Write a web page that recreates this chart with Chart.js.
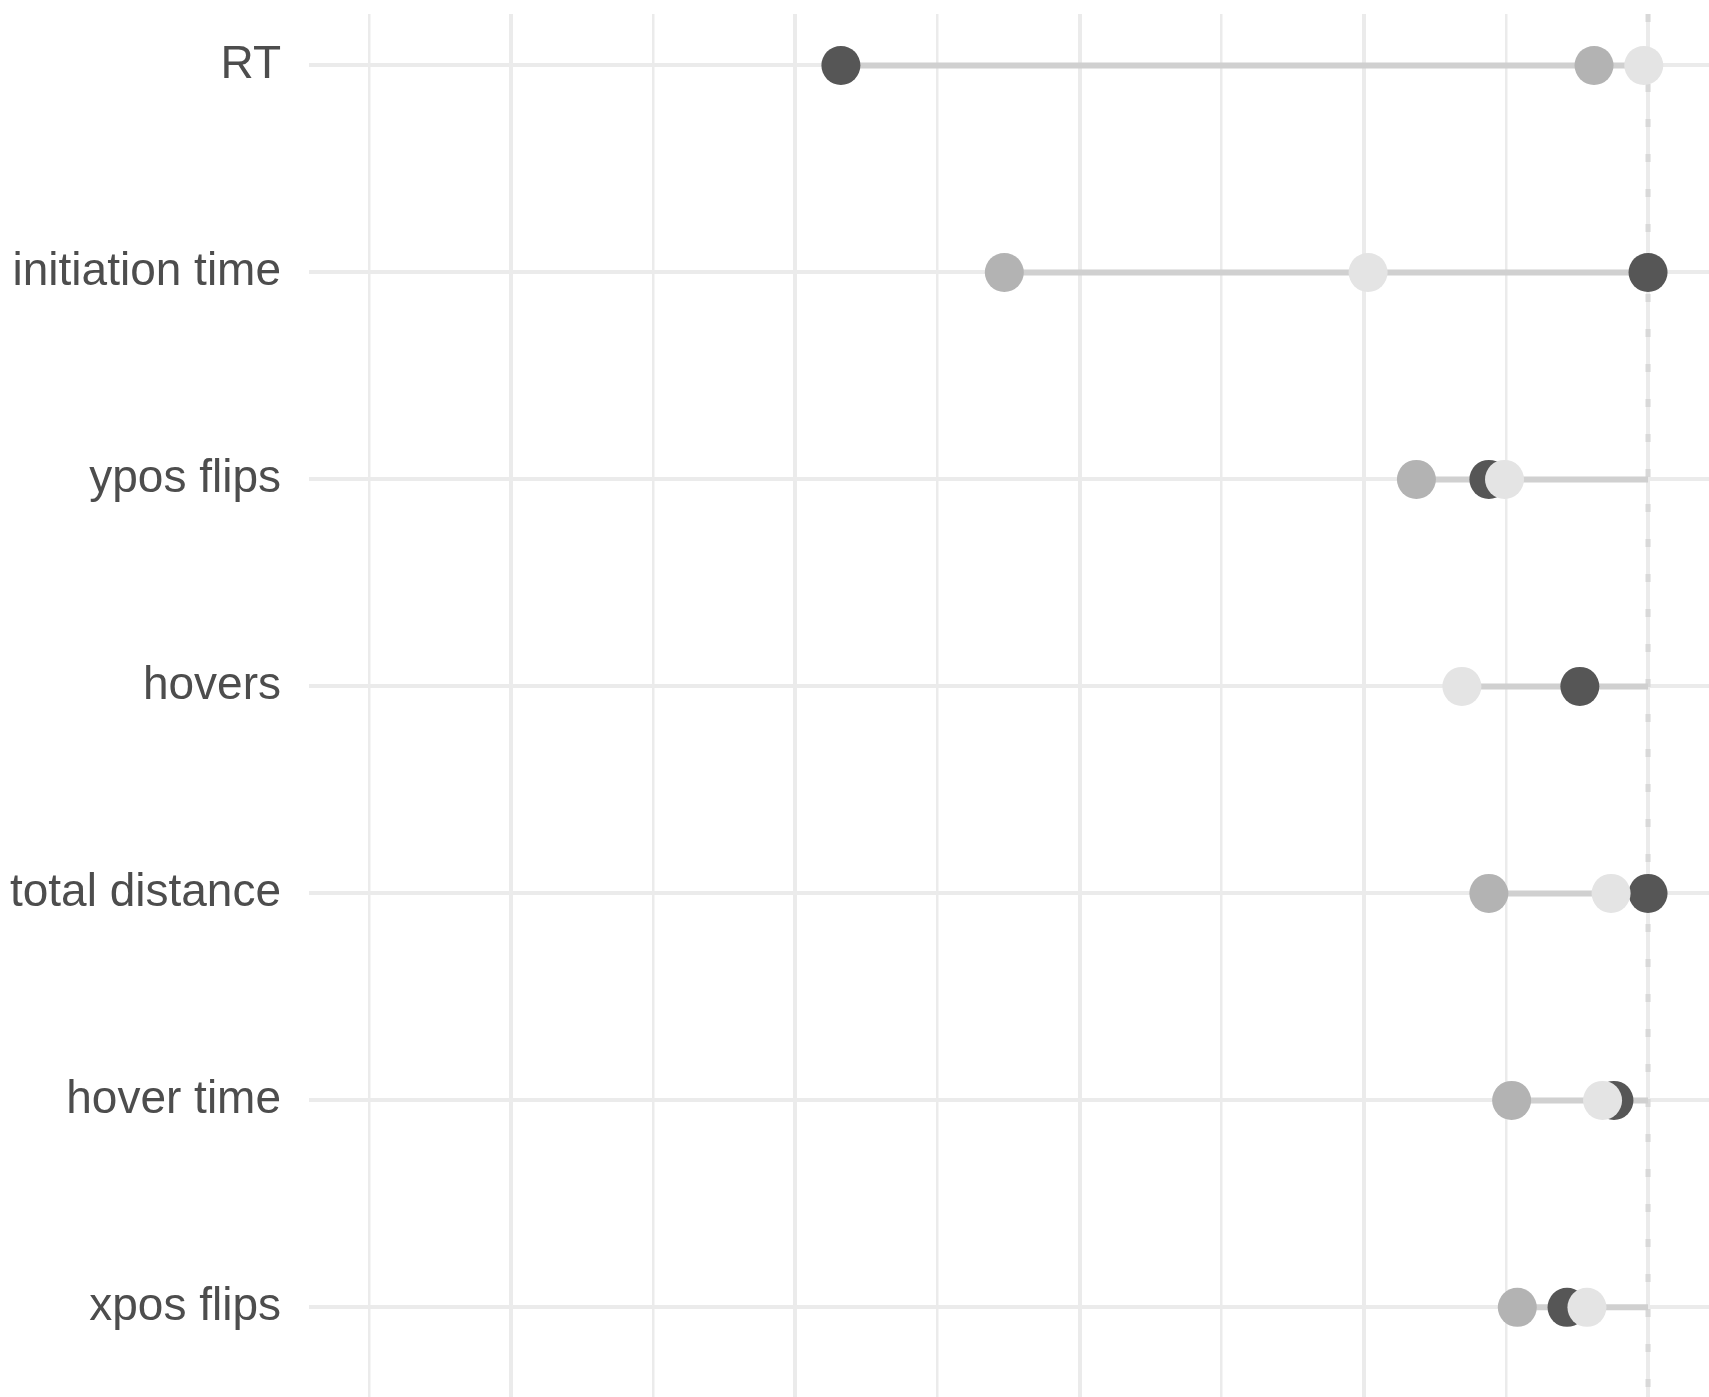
<!DOCTYPE html>
<html>
<head>
<meta charset="utf-8">
<script src="https://cdn.jsdelivr.net/npm/chart.js@4.4.1/dist/chart.umd.min.js"></script>
<style>
    html, body { margin: 0; padding: 0; background: #ffffff; }
    #wrap { width: 1709px; height: 1397px; }
</style>
</head>
<body>
<div id="wrap"><canvas id="myChart" width="1709" height="1397"></canvas></div>
<script>
// rows, top to bottom
var categorias = ['RT', 'initiation time', 'ypos flips', 'hovers', 'total distance', 'hover time', 'xpos flips'];

// values of the three groups (dark, medium, light dots)
var serieEscura = [-0.568, 0.000, -0.112, -0.048, 0.000, -0.024, -0.057];
var serieMedia  = [-0.038, -0.453, -0.163, null, -0.112, -0.096, -0.092];
var serieClara  = [-0.003, -0.197, -0.101, -0.131, -0.026, -0.032, -0.043];

// x grid positions (no labels shown), reference line at 0
var gridX = [-0.9, -0.8, -0.7, -0.6, -0.5, -0.4, -0.3, -0.2, -0.1, 0];
var linhaRef = 0;

document.addEventListener("DOMContentLoaded", function () {

    function pontos(serie) {
        var out = [];
        serie.forEach(function (v, i) {
            if (v !== null) out.push({ x: v, y: i + 1 });
        });
        return out;
    }

    var datasets = [];

    datasets.push({ type: 'scatter', label: 'light', data: pontos(serieClara),
        backgroundColor: '#e4e4e4', pointRadius: 19.5, pointHoverRadius: 19.5, borderWidth: 0, order: 1 });
    datasets.push({ type: 'scatter', label: 'dark', data: pontos(serieEscura),
        backgroundColor: '#565656', pointRadius: 19.5, pointHoverRadius: 19.5, borderWidth: 0, order: 2 });
    datasets.push({ type: 'scatter', label: 'medium', data: pontos(serieMedia),
        backgroundColor: '#b3b3b3', pointRadius: 19.5, pointHoverRadius: 19.5, borderWidth: 0, order: 3 });

    // segment from smallest value to the reference line
    categorias.forEach(function (c, i) {
        var vals = [serieEscura[i], serieMedia[i], serieClara[i]].filter(function (v) { return v !== null; });
        var minimo = Math.min.apply(null, vals);
        datasets.push({ type: 'line', label: 'seg ' + c,
            data: [{ x: minimo, y: i + 1 }, { x: linhaRef, y: i + 1 }],
            borderColor: '#d0d0d0', borderWidth: 6, pointRadius: 0, fill: false, order: 4 });
    });

    var yMin = 0.7517, yMax = 7.433;

    datasets.push({ type: 'line', label: 'ref',
        data: [{ x: linhaRef, y: yMin }, { x: linhaRef, y: yMax }],
        borderColor: '#d8d8d8', borderWidth: 5, borderDash: [8, 27], pointRadius: 0, fill: false, order: 5 });

    var ctx = document.getElementById('myChart').getContext('2d');
    var myChart = new Chart(ctx, {
        type: 'scatter',
        data: { datasets: datasets },
        options: {
            responsive: false,
            animation: false,
            devicePixelRatio: 1,
            events: [],
            layout: { autoPadding: false, padding: { top: 14, left: 0, right: 0, bottom: 0 } },
            plugins: {
                legend: { display: false },
                tooltip: { enabled: false }
            },
            scales: {
                x: {
                    type: 'linear',
                    min: -0.9423,
                    max: 0.0429,
                    afterBuildTicks: function (scale) {
                        scale.ticks = gridX.map(function (v) { return { value: v }; });
                    },
                    afterFit: function (scale) {
                        scale.height = 0;
                        scale.paddingLeft = 0;
                        scale.paddingRight = 0;
                    },
                    ticks: { display: false },
                    border: { display: false },
                    grid: {
                        drawTicks: false,
                        color: '#ebebeb',
                        lineWidth: function (c) {
                            var idx = gridX.indexOf(c.tick ? c.tick.value : null);
                            return (idx % 2 === 1) ? 4 : 2.5;
                        }
                    }
                },
                y: {
                    type: 'linear',
                    reverse: true,
                    min: yMin,
                    max: yMax,
                    afterBuildTicks: function (scale) {
                        scale.ticks = categorias.map(function (c, i) { return { value: i + 1 }; });
                    },
                    afterFit: function (scale) {
                        scale.width = 309;
                        scale.paddingTop = 0;
                        scale.paddingBottom = 0;
                    },
                    border: { display: false },
                    grid: { drawTicks: false, color: '#ebebeb', lineWidth: 4 },
                    ticks: {
                        padding: 28,
                        color: '#4d4d4d',
                        font: { family: '"Liberation Sans", Arial, sans-serif', size: 46 },
                        callback: function (v) { return categorias[v - 1]; }
                    }
                }
            }
        }
    });
});
</script>
</body>
</html>
